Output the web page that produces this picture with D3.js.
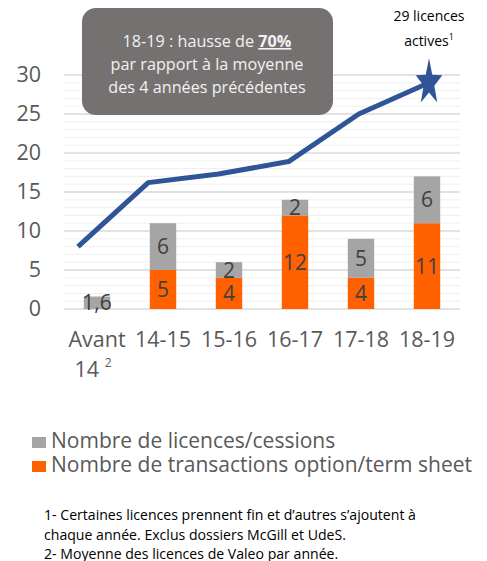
<!DOCTYPE html>
<html>
<head>
<meta charset="UTF-8">
<title>licences</title>
<style>
  body { margin: 0; background: #fff; }
  text { font-family: "Open Sans", sans-serif; }
</style>
</head>
<body>
<div id="chart"></div>
<script src="https://d3js.org/d3.v7.min.js"></script>
<script>
var categories = ["Avant 14", "14-15", "15-16", "16-17", "17-18", "18-19"];
var licences = [1.6, 6, 2, 2, 5, 6];        // gris
var transactions = [0, 5, 4, 12, 4, 11];    // orange
var actives = [8, 16.2, 17.3, 18.9, 25, 29]; // ligne bleue
var yTicks = [0, 5, 10, 15, 20, 25, 30];
var legendLabels = ["Nombre de licences/cessions", "Nombre de transactions option/term sheet"];
var footnotes = [
  "1- Certaines licences prennent fin et d\u2019autres s\u2019ajoutent \u00e0",
  "chaque ann\u00e9e. Exclus dossiers McGill et UdeS.",
  "2- Moyenne des licences de Valeo par ann\u00e9e."
];

var width = 487, height = 561;
var grey = "#a5a5a5", orange = "#ff6000", blue = "#2f5597", txt = "#595959";

var svg = d3.select("#chart").append("svg")
  .attr("width", width).attr("height", height);

var x = d3.scaleBand().domain(categories).range([64, 460]).paddingInner(0.6).paddingOuter(0.3);
var y = d3.scaleLinear().domain([0, 30]).range([309, 75]);
// la ligne est posee par-dessus, avec son propre espacement
var xLine = d3.scalePoint().domain(categories).range([78, 429]);

// petites lignes de grille
svg.append("g").selectAll("line")
  .data(d3.range(0, 31, 1).filter(function(d){ return d % 5 != 0; }))
  .enter().append("line")
  .attr("x1", 64).attr("x2", 460)
  .attr("y1", function(d){ return y(d); }).attr("y2", function(d){ return y(d); })
  .attr("stroke", "#efefef").attr("stroke-width", 1);

// grille principale
svg.append("g").selectAll("line")
  .data(yTicks)
  .enter().append("line")
  .attr("x1", 64).attr("x2", 460)
  .attr("y1", function(d){ return y(d); }).attr("y2", function(d){ return y(d); })
  .attr("stroke", "#d9d9d9").attr("stroke-width", 1.3);

// axe y
var yAxis = d3.axisLeft(y).tickValues(yTicks).tickSize(0).tickPadding(23);
var ya = svg.append("g").attr("transform", "translate(64,0)").call(yAxis);
ya.select(".domain").remove();
ya.selectAll("text").attr("font-size", 21.5).attr("fill", txt).style("font-family", "'Open Sans', sans-serif");

// barres
var bw = x.bandwidth();
svg.append("g").selectAll("rect")
  .data(categories)
  .enter().append("rect")
  .attr("x", function(d){ return x(d); })
  .attr("width", bw)
  .attr("y", function(d, i){ return y(transactions[i]); })
  .attr("height", function(d, i){ return y(0) - y(transactions[i]); })
  .attr("fill", orange);

svg.append("g").selectAll("rect")
  .data(categories)
  .enter().append("rect")
  .attr("x", function(d){ return x(d); })
  .attr("width", bw)
  .attr("y", function(d, i){ return y(transactions[i] + licences[i]); })
  .attr("height", function(d, i){ return y(0) - y(licences[i]); })
  .attr("fill", grey);

// valeurs
categories.forEach(function(c, i){
  var cx = x(c) + bw / 2;
  if (transactions[i] > 0) {
    svg.append("text").attr("x", cx).attr("y", y(transactions[i] / 2) + 7.5)
      .attr("text-anchor", "middle").attr("font-size", 21).attr("fill", "#404040")
      .text(transactions[i]);
  }
  var mid = transactions[i] + licences[i] / 2;
  svg.append("text").attr("x", cx).attr("y", y(mid) + 7.5)
    .attr("text-anchor", "middle").attr("font-size", 21).attr("fill", "#404040")
    .text(String(licences[i]).replace(".", ","));
});

// ligne
var line = d3.line()
  .x(function(d, i){ return xLine(categories[i]); })
  .y(function(d){ return y(d); });
svg.append("path").datum(actives)
  .attr("d", line).attr("fill", "none")
  .attr("stroke", blue).attr("stroke-width", 5).attr("stroke-linejoin", "round");

// etoile (etiree verticalement)
var last = actives.length - 1;
var starPts = d3.range(10).map(function(k){
  var r = k % 2 == 0 ? 14 : 5.6;
  var a = -Math.PI / 2 + k * Math.PI / 5;
  return [r * Math.cos(a), r * Math.sin(a)];
});
svg.append("path")
  .attr("d", d3.line()(starPts) + "Z")
  .attr("transform", "translate(" + xLine(categories[last]) + "," + y(actives[last]) + ") scale(1,1.75)")
  .attr("fill", blue);

// axe x
var xl = svg.append("g");
categories.forEach(function(c, i){
  var cx = x(c) + bw / 2;
  if (c == "Avant 14") {
    xl.append("text").attr("x", cx).attr("y", 347).attr("text-anchor", "middle")
      .attr("font-size", 21.5).attr("fill", txt).text("Avant");
    var t = xl.append("text").attr("x", cx - 4).attr("y", 377).attr("text-anchor", "middle")
      .attr("font-size", 21.5).attr("fill", txt);
    t.append("tspan").text("14 ");
    t.append("tspan").attr("font-size", 12).attr("dy", -10).text("2");
  } else {
    xl.append("text").attr("x", cx).attr("y", 347).attr("text-anchor", "middle")
      .attr("font-size", 21.5).attr("fill", txt).text(c);
  }
});

// encadre
svg.append("rect").attr("x", 82).attr("y", 8).attr("width", 251).attr("height", 107)
  .attr("rx", 14).attr("fill", "#767171");
var a1 = svg.append("text").attr("x", 207).attr("y", 47).attr("text-anchor", "middle")
  .attr("font-size", 16.2).attr("fill", "#f2f2f2");
a1.append("tspan").text("18-19 : hausse de ");
a1.append("tspan").attr("font-weight", "bold").attr("text-decoration", "underline").text("70%");
svg.append("text").attr("x", 207).attr("y", 70).attr("text-anchor", "middle")
  .attr("font-size", 16.2).attr("fill", "#f2f2f2").text("par rapport \u00e0 la moyenne");
svg.append("text").attr("x", 207).attr("y", 93).attr("text-anchor", "middle")
  .attr("font-size", 16.2).attr("fill", "#f2f2f2").text("des 4 ann\u00e9es pr\u00e9c\u00e9dentes");

// note etoile
svg.append("text").attr("x", 429).attr("y", 21).attr("text-anchor", "middle")
  .attr("font-size", 14).attr("fill", "#000").text("29 licences");
var s2 = svg.append("text").attr("x", 429).attr("y", 46).attr("text-anchor", "middle")
  .attr("font-size", 14).attr("fill", "#000");
s2.append("tspan").text("actives");
s2.append("tspan").attr("font-size", 9).attr("dy", -6).text("1");

// legende
var lg = svg.append("g");
legendLabels.forEach(function(l, i){
  var ly = 448 + i * 24;
  lg.append("rect").attr("x", 32).attr("y", ly - 11).attr("width", 14).attr("height", 11)
    .attr("fill", i == 0 ? grey : orange);
  lg.append("text").attr("x", 51).attr("y", ly).attr("font-size", 21)
    .attr("fill", txt).text(l);
});

// notes
footnotes.forEach(function(f, i){
  svg.append("text").attr("x", 44).attr("y", 520 + i * 19.5)
    .attr("font-size", 14.1).attr("fill", "#000").text(f);
});
</script>
</body>
</html>
